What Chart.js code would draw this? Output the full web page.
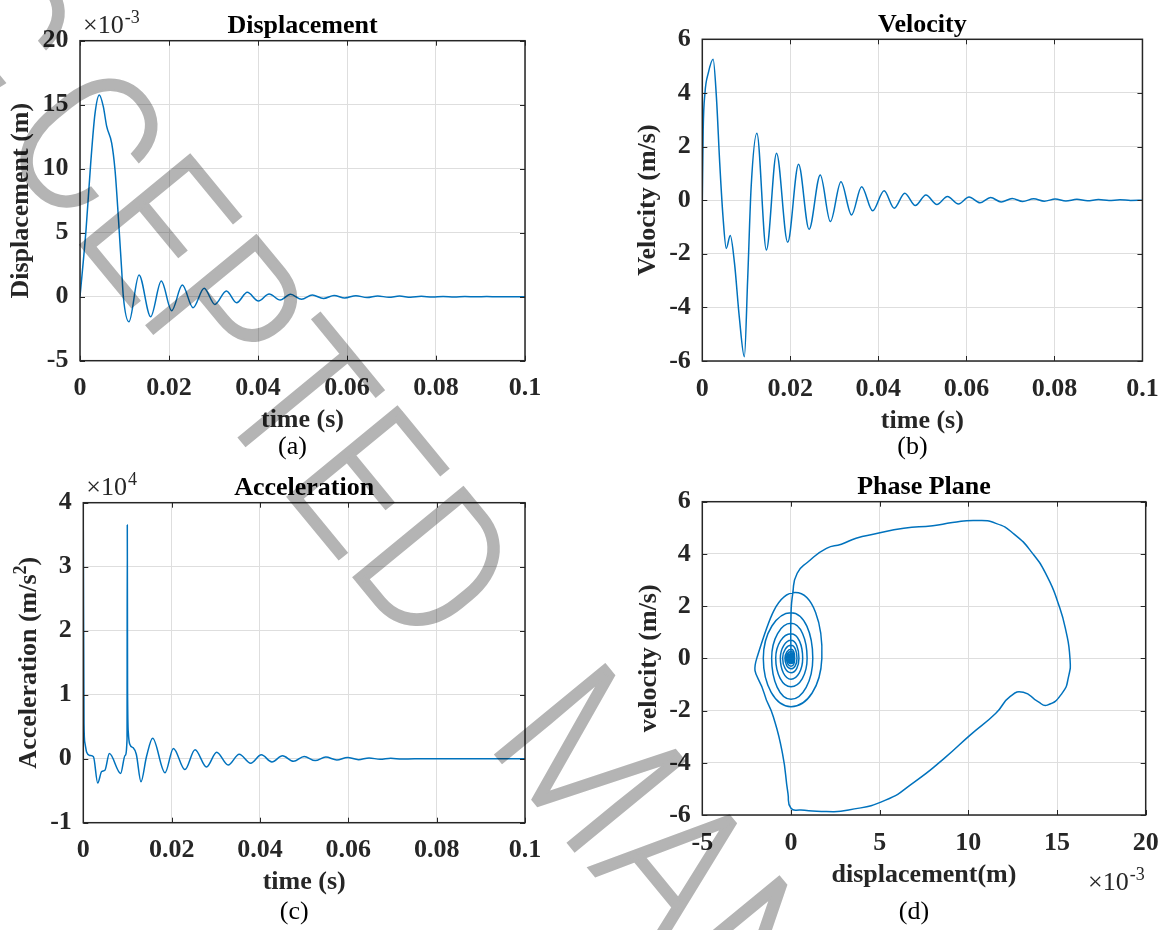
<!DOCTYPE html>
<html>
<head>
<meta charset="utf-8">
<title>Displacement, velocity, acceleration and phase plane</title>
<script src="https://cdn.jsdelivr.net/npm/chart.js@4.4.1/dist/chart.umd.min.js"></script>
<style>
  html, body { margin: 0; padding: 0; background: #fff; }
  #page { position: relative; width: 1171px; height: 930px; overflow: hidden; background: #fff; }
  #page canvas { position: absolute; }
  #wm { left: 0; top: 0; pointer-events: none; mix-blend-mode: multiply; }
</style>
</head>
<body>
<div id="page">
  <canvas id="dispChart" width="586" height="465" style="left:0;top:0"></canvas>
  <canvas id="velChart" width="585" height="465" style="left:586px;top:0"></canvas>
  <canvas id="accChart" width="586" height="465" style="left:0;top:465px"></canvas>
  <canvas id="phaseChart" width="585" height="465" style="left:586px;top:465px"></canvas>
  <canvas id="wm" width="1171" height="930"></canvas>
</div>
<script>
// shared time axis (s)
const timeTicks = [0, 0.02, 0.04, 0.06, 0.08, 0.1];
const timeTickLabels = ['0', '0.02', '0.04', '0.06', '0.08', '0.1'];

// (a) displacement, x10^-3 m
const dispTime = [0, 0.00135, 0.0024, 0.00337, 0.00434, 0.00524, 0.0060, 0.00712, 0.00787, 0.00861,
  0.00936, 0.00974, 0.0110, 0.01326, 0.01588, 0.01827, 0.0206, 0.0230, 0.0254, 0.0279,
  0.0303, 0.0329, 0.0352, 0.0376, 0.0401, 0.0425, 0.0450, 0.0473, 0.0498, 0.0522,
  0.0547, 0.0571, 0.0595, 0.0620, 0.0645, 0.0669, 0.0694, 0.0718, 0.0743, 0.0767,
  0.0792, 0.0816, 0.0841, 0.0865, 0.0890, 0.0914, 0.0939, 0.0963, 0.1];
const dispValue = [0, 5.2, 10.4, 14.3, 15.76, 14.85, 13.3, 12.0, 9.9, 6.25,
  2.1, 0, -1.95, 1.70, -1.56, 1.23, -1.09, 0.91, -0.86, 0.66,
  -0.60, 0.45, -0.47, 0.34, -0.34, 0.21, -0.26, 0.19, -0.20, 0.13,
  -0.14, 0.10, -0.10, 0.08, -0.07, 0.06, -0.05, 0.05, -0.04, 0.03,
  -0.03, 0.02, -0.02, 0.015, -0.01, 0.01, -0.005, 0.005, 0];
const dispTicks = [-5, 0, 5, 10, 15, 20];
const dispTickLabels = ['-5', '0', '5', '10', '15', '20'];

// (b) velocity, m/s
const velTime = [0, 0.0002, 0.0006, 0.00134, 0.00246, 0.0032, 0.00396, 0.0047, 0.00545, 0.00635,
  0.00732, 0.0084, 0.00956, 0.0103, 0.0111, 0.0124, 0.01456, 0.01687, 0.0194, 0.02187,
  0.02426, 0.0268, 0.0291, 0.0315, 0.0339, 0.0362, 0.0387, 0.0413, 0.0436, 0.0460,
  0.0484, 0.0508, 0.0533, 0.0557, 0.0582, 0.0606, 0.0631, 0.0655, 0.0679, 0.0704,
  0.0728, 0.0753, 0.0777, 0.0802, 0.0826, 0.0851, 0.0875, 0.0900, 0.0924, 0.0949,
  0.0973, 0.1];
const velValue = [0, 2.62, 3.99, 4.73, 5.26, 3.86, 1.38, -0.61, -1.80, -1.32,
  -2.36, -4.35, -5.84, -2.98, 0.5, 2.5, -1.86, 1.75, -1.57, 1.34,
  -1.09, 0.94, -0.80, 0.69, -0.55, 0.50, -0.40, 0.35, -0.30, 0.26,
  -0.20, 0.19, -0.16, 0.14, -0.14, 0.12, -0.10, 0.10, -0.07, 0.06,
  -0.05, 0.05, -0.04, 0.04, -0.03, 0.03, -0.02, 0.02, -0.015, 0.015,
  -0.01, 0];
const velTicks = [-6, -4, -2, 0, 2, 4, 6];
const velTickLabels = ['-6', '-4', '-2', '0', '2', '4', '6'];

// (c) acceleration, x10^4 m/s^2
const accTime = [0, 0.00016, 0.00038, 0.00076, 0.0015, 0.0023, 0.00326, 0.00416, 0.0049, 0.0059,
  0.00846, 0.00946, 0.0099, 0.00996, 0.01002, 0.0102, 0.0105, 0.0113, 0.0120, 0.01306,
  0.0143, 0.0157, 0.0185, 0.0204, 0.0230, 0.0253, 0.0279, 0.0302, 0.0328, 0.0353,
  0.0379, 0.0403, 0.0427, 0.0451, 0.0476, 0.0500, 0.0525, 0.0549, 0.0574, 0.0598,
  0.0623, 0.0647, 0.0672, 0.0696, 0.0721, 0.075, 0.1];
const accValue = [3.57, 0.55, 0.24, 0.10, 0.05, 0.03, -0.38, -0.20, -0.18, 0.08,
  -0.23, 0.05, 0.30, 3.65, 1.10, 0.40, 0.23, 0.17, 0.07, -0.36,
  0.03, 0.32, -0.22, 0.16, -0.17, 0.14, -0.13, 0.10, -0.10, 0.07,
  -0.07, 0.06, -0.05, 0.045, -0.04, 0.035, -0.03, 0.025, -0.02, 0.02,
  -0.015, 0.012, -0.01, 0.008, -0.006, 0, 0];
const accTicks = [-1, 0, 1, 2, 3, 4];
const accTickLabels = ['-1', '0', '1', '2', '3', '4'];

// (d) phase plane: displacement (x10^-3 m) against velocity (m/s)
const phaseDisp = [0, 0, 0.1, 0.35, 0.97, 2.0, 2.84, 3.67, 4.7, 6.36,
  8.0, 9.1, 10.4, 11.55, 12.58, 13.62, 14.45, 15.07, 15.49, 15.73,
  15.65, 15.28, 14.45, 13.93, 13.1, 12.38, 11.55, 10.1, 8.64, 6.99,
  5.33, 3.25, 2.0, 0.56, 0, -0.17, -0.48, -1.0, -1.51, -1.93,
  0.25, 1.74, 0, -1.56, 0, 1.23, 0, -1.09, 0, 0.91,
  0, -0.86, 0, 0.66, 0, -0.60, 0, 0.45, 0, -0.47,
  0, 0.34, 0, -0.34, 0, 0.21, 0, -0.26, 0, 0.19,
  0, -0.20, 0, 0.13, 0, -0.14, 0, 0.10, 0, -0.10,
  0, 0.08, 0, -0.07, 0, 0.06, 0, -0.05, 0, 0.05,
  0, -0.04, 0, 0.03, 0, -0.03, 0, 0.02, 0, 0];
const phaseVel = [0, 1.6, 2.49, 3.26, 3.7, 4.21, 4.37, 4.6, 4.76, 4.98,
  5.08, 5.2, 5.28, 5.17, 4.76, 4.02, 3.13, 2.1, 1.09, 0,
  -0.7, -1.34, -1.79, -1.66, -1.3, -1.45, -2.1, -2.94, -3.83, -4.72,
  -5.43, -5.81, -5.87, -5.81, -5.74, -5.17, -3.64, -2.23, -1.34, 0,
  2.52, 0, -1.85, 0, 1.75, 0, -1.57, 0, 1.34, 0,
  -1.09, 0, 0.94, 0, -0.80, 0, 0.69, 0, -0.55, 0,
  0.50, 0, -0.40, 0, 0.35, 0, -0.30, 0, 0.26, 0,
  -0.20, 0, 0.19, 0, -0.16, 0, 0.14, 0, -0.14, 0,
  0.12, 0, -0.10, 0, 0.10, 0, -0.07, 0, 0.06, 0,
  -0.05, 0, 0.05, 0, -0.04, 0, 0.04, 0, -0.03, 0];
const phaseDispTicks = [-5, 0, 5, 10, 15, 20];
const phaseDispTickLabels = ['-5', '0', '5', '10', '15', '20'];

// stamp text, split where the letter spacing changes
const watermarkParts = ['AC', 'CEPTED', 'MANUSCRIPT'];

const serif = "'Liberation Serif', 'Times New Roman', serif";
const ink = '#262626';
const lineBlue = '#0072bd';
const fontSize = 26;

const pairs = (xs, ys) => xs.map((x, i) => ({ x: x, y: ys[i] }));

// draws "base" with a raised "sup" after it, left or right aligned
function drawPower(ctx, base, sup, x, y, alignRight) {
  ctx.font = fontSize + 'px ' + serif;
  const wb = ctx.measureText(base).width;
  ctx.font = '18px ' + serif;
  const ws = ctx.measureText(sup).width;
  const x0 = alignRight ? x - wb - ws : x;
  ctx.textAlign = 'left';
  ctx.font = fontSize + 'px ' + serif;
  ctx.fillText(base, x0, y);
  ctx.font = '18px ' + serif;
  ctx.fillText(sup, x0 + wb + 1, y - 10);
}

// matlab style box, inward ticks and all the panel text
const panelDecor = {
  id: 'panelDecor',
  afterDraw(chart, args, o) {
    const ctx = chart.ctx;
    const a = chart.chartArea;
    const sx = chart.scales.x, sy = chart.scales.y;
    ctx.save();
    ctx.strokeStyle = ink;
    ctx.lineWidth = 1;
    ctx.beginPath();
    sx.ticks.forEach(t => {
      const px = Math.round(sx.getPixelForValue(t.value)) + 0.5;
      ctx.moveTo(px, a.bottom); ctx.lineTo(px, a.bottom - 5);
      ctx.moveTo(px, a.top); ctx.lineTo(px, a.top + 5);
    });
    sy.ticks.forEach(t => {
      const py = Math.round(sy.getPixelForValue(t.value)) + 0.5;
      ctx.moveTo(a.left, py); ctx.lineTo(a.left + 5, py);
      ctx.moveTo(a.right, py); ctx.lineTo(a.right - 5, py);
    });
    ctx.stroke();
    ctx.lineWidth = 1.5;
    ctx.strokeRect(a.left, a.top, a.right - a.left, a.bottom - a.top);

    const cx = (a.left + a.right) / 2;
    ctx.textAlign = 'center';
    ctx.textBaseline = 'alphabetic';
    ctx.font = 'bold ' + fontSize + 'px ' + serif;
    ctx.fillStyle = '#000';
    ctx.fillText(o.title, cx, a.top - 7.5);
    ctx.fillStyle = ink;
    ctx.fillText(o.xLabel, cx, a.bottom + 66.5);

    // rotated y label, optional superscript inside it
    ctx.save();
    ctx.translate(a.left - o.yGap, (a.top + a.bottom) / 2);
    ctx.rotate(-Math.PI / 2);
    if (o.ySup) {
      const bold = 'bold ' + fontSize + 'px ' + serif;
      const boldSup = 'bold 18px ' + serif;
      ctx.font = bold;
      const w1 = ctx.measureText(o.yLabel).width;
      const w3 = ctx.measureText(o.yTail).width;
      ctx.font = boldSup;
      const w2 = ctx.measureText(o.ySup).width;
      const x0 = -(w1 + w2 + w3) / 2;
      ctx.textAlign = 'left';
      ctx.font = bold;
      ctx.fillText(o.yLabel, x0, 0);
      ctx.font = boldSup;
      ctx.fillText(o.ySup, x0 + w1, -10);
      ctx.font = bold;
      ctx.fillText(o.yTail, x0 + w1 + w2, 0);
    } else {
      ctx.fillText(o.yLabel, 0, 0);
    }
    ctx.restore();

    ctx.textAlign = 'center';
    ctx.font = fontSize + 'px ' + serif;
    ctx.fillStyle = '#000';
    ctx.fillText(o.caption, cx - 10, 454);

    if (o.power) {
      ctx.fillStyle = ink;
      if (o.power.below) {
        drawPower(ctx, o.power.base, o.power.sup, a.right - 2, a.bottom + 75, true);
      } else {
        drawPower(ctx, o.power.base, o.power.sup, a.left + 3, a.top - 7.5, false);
      }
    }
    ctx.restore();
  }
};

function axis(ticks, labels, min, max, pad, fit) {
  return {
    type: 'linear',
    min: min,
    max: max,
    afterBuildTicks: s => { s.ticks = ticks.map(v => ({ value: v })); },
    afterFit: fit,
    grid: { color: '#dedede', lineWidth: 1, drawTicks: false },
    border: { display: false },
    ticks: {
      padding: pad,
      autoSkip: false,
      maxRotation: 0,
      color: ink,
      font: { family: serif, size: fontSize, weight: 'bold' },
      callback: (v, i) => labels[i]
    }
  };
}

function makeChart(id, points, o) {
  return new Chart(document.getElementById(id), {
    type: o.phase ? 'scatter' : 'line',
    data: {
      datasets: [{
        data: points,
        borderColor: lineBlue,
        borderWidth: 1.5,
        pointRadius: 0,
        fill: false,
        showLine: true,
        tension: o.phase ? 0.55 : 0,
        cubicInterpolationMode: o.phase ? 'default' : 'monotone'
      }]
    },
    options: {
      responsive: false,
      animation: false,
      events: [],
      layout: { padding: { top: o.top, right: o.right, left: 0, bottom: 0 } },
      plugins: {
        legend: { display: false },
        tooltip: { enabled: false },
        panelDecor: o.decor
      },
      scales: {
        x: axis(o.xTicks, o.xLabels, o.xMin, o.xMax, 12.3, s => { s.height = o.xHeight; }),
        y: axis(o.yTicks, o.yLabels, o.yMin, o.yMax, 11.5, s => { s.width = o.yWidth; })
      }
    },
    plugins: [panelDecor]
  });
}

makeChart('dispChart', pairs(dispTime, dispValue), {
  top: 40.7, right: 61, xHeight: 104.3, yWidth: 80,
  xTicks: timeTicks, xLabels: timeTickLabels, xMin: 0, xMax: 0.1,
  yTicks: dispTicks, yLabels: dispTickLabels, yMin: -5, yMax: 20,
  decor: { title: 'Displacement', xLabel: 'time (s)', yLabel: 'Displacement (m)', yGap: 52,
    caption: '(a)', power: { base: '\u00d710', sup: '-3' } }
});

makeChart('velChart', pairs(velTime, velValue), {
  top: 39.3, right: 22, xHeight: 104, yWidth: 116.3,
  xTicks: timeTicks, xLabels: timeTickLabels, xMin: 0, xMax: 0.1,
  yTicks: velTicks, yLabels: velTickLabels, yMin: -6, yMax: 6,
  decor: { title: 'Velocity', xLabel: 'time (s)', yLabel: 'Velocity (m/s)', yGap: 47,
    caption: '(b)' }
});

makeChart('accChart', pairs(accTime, accValue), {
  top: 37.7, right: 61, xHeight: 107.3, yWidth: 83.3,
  xTicks: timeTicks, xLabels: timeTickLabels, xMin: 0, xMax: 0.1,
  yTicks: accTicks, yLabels: accTickLabels, yMin: -1, yMax: 4,
  decor: { title: 'Acceleration', xLabel: 'time (s)', yLabel: 'Acceleration (m/s', ySup: '2', yTail: ')',
    yGap: 47, caption: '(c)', power: { base: '\u00d710', sup: '4' } }
});

makeChart('phaseChart', pairs(phaseDisp, phaseVel), {
  phase: true,
  top: 36.7, right: 22, xHeight: 115, yWidth: 116.3,
  xTicks: phaseDispTicks, xLabels: phaseDispTickLabels, xMin: -5, xMax: 20,
  yTicks: velTicks, yLabels: velTickLabels, yMin: -6, yMax: 6,
  decor: { title: 'Phase Plane', xLabel: 'displacement(m)', yLabel: 'velocity (m/s)', yGap: 46,
    caption: '(d)', power: { base: '\u00d710', sup: '-3', below: true } }
});

// diagonal grey stamp laid over all four panels
function drawWatermark() {
  const ctx = document.getElementById('wm').getContext('2d');
  const angle = 50.6 * Math.PI / 180;
  const ux = Math.cos(angle), uy = Math.sin(angle);
  ctx.font = "300 200px Roboto, 'Liberation Sans', sans-serif";
  const w = s => ctx.measureText(s).width;
  const [head, rest, tail] = watermarkParts;
  // letters sit tighter than the font's own advances: C centre to T centre is 331px
  const cHalf = w('C') / 2;
  const toT = w(rest.slice(0, 3)) + w('T') / 2;
  const squeeze = 331 / (toT - cHalf);
  const half = 71;
  ctx.fillStyle = '#b4b4b4';
  ctx.strokeStyle = '#b4b4b4';
  ctx.lineWidth = 2;
  const place = (word, cx, cy, offset) => {
    ctx.save();
    ctx.translate(cx, cy);
    ctx.rotate(angle);
    ctx.scale(squeeze, 1);
    ctx.fillText(word, -offset, half);
    ctx.strokeText(word, -offset, half);
    ctx.restore();
  };
  const c2 = [87, 141];
  place(rest, c2[0], c2[1], cHalf);
  // the leading "AC" sits one wide step further back along the line
  place(head, c2[0] - 145 * ux, c2[1] - 145 * uy, w('A') + cHalf);
  place(tail, 590, 758, w('M') / 2);
}
drawWatermark();
</script>
</body>
</html>
